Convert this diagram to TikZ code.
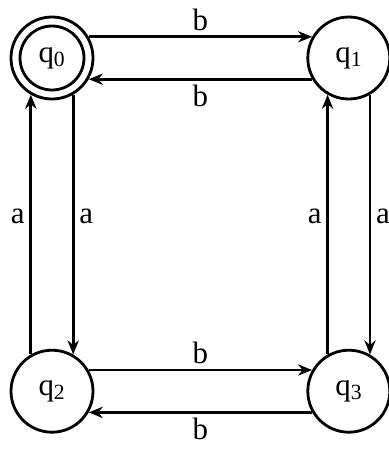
\documentclass[tikz,border=0pt]{standalone}
\usepackage{fontspec}
\setmainfont{Liberation Serif}
\usetikzlibrary{arrows.meta}

\begin{document}
\begin{tikzpicture}[
  every node/.style={font=\fontsize{22}{26}\selectfont},
  state/.style={circle, draw, line width=2pt, minimum size=2.05cm, inner sep=0pt},
  trans/.style={line width=2pt, -{Stealth[length=10pt, width=8pt]}},
]
  \useasboundingbox (0,0) rectangle (9.725,-11.25);

  % Etats
  \node[state] (q0) at (1.3, -1.45) {q\textsubscript{0}};
  \draw[line width=2pt] (q0.center) circle (0.8cm);
  \node[state] (q1) at (8.72, -1.45) {q\textsubscript{1}};
  \node[state] (q2) at (1.3, -9.78) {q\textsubscript{2}};
  \node[state] (q3) at (8.72, -9.78) {q\textsubscript{3}};

  % Transitions
  \draw[trans] (q0.30) -- node[above]{b} (q1.150);
  \draw[trans] (q1.210) -- node[below]{b} (q0.330);
  \draw[trans] (q2.120) -- node[left, pos=0.53]{a} (q0.240);
  \draw[trans] (q0.300) -- node[right, pos=0.47]{a} (q2.60);
  \draw[trans] (q3.120) -- node[left, pos=0.53]{a} (q1.240);
  \draw[trans] (q1.300) -- node[right, pos=0.47]{a} (q3.60);
  \draw[trans] (q2.30) -- node[above]{b} (q3.150);
  \draw[trans] (q3.210) -- node[below]{b} (q2.330);
\end{tikzpicture}
\end{document}
